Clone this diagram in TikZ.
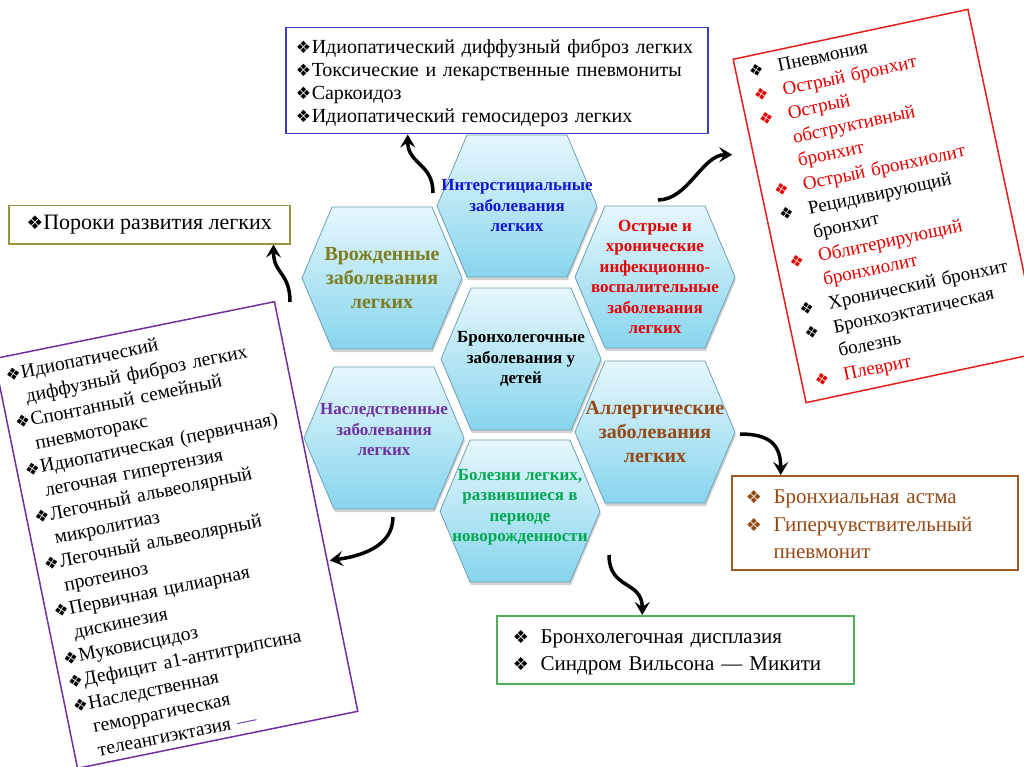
\documentclass[tikz,border=0pt]{standalone}
\usepackage{fontspec}
\setmainfont{Liberation Serif}
\newfontfamily\symf{DejaVu Sans}
\usepackage{graphicx}
\usetikzlibrary{arrows.meta,positioning,shadows}

\definecolor{hexline}{RGB}{110,160,180}
\definecolor{hextop}{RGB}{230,247,252}
\definecolor{hexbot}{RGB}{135,213,238}
\definecolor{interblue}{RGB}{20,20,215}
\definecolor{olivetxt}{RGB}{125,125,30}
\definecolor{redtxt}{RGB}{230,0,0}
\definecolor{purpletxt}{RGB}{112,48,160}
\definecolor{browntxt}{RGB}{150,72,20}
\definecolor{greentxt}{RGB}{0,168,80}
\definecolor{topline}{RGB}{60,60,190}
\definecolor{oliveline}{RGB}{150,150,60}
\definecolor{redline}{RGB}{230,30,30}
\definecolor{brownline}{RGB}{160,90,40}
\definecolor{greenline}{RGB}{80,175,90}

\newlength{\bulw}
\newcommand{\bul}{\scalebox{0.85}{\symf ❖}}
\newcommand{\itm}[2][black]{\hangindent=\bulw\hangafter=1\noindent%
  \makebox[\bulw][l]{\textcolor{#1}{\bul}}\textcolor{#1}{#2}\par}

\begin{document}
\begin{tikzpicture}[x=1pt, y=-1pt,
  hexcell/.style={draw=hexline, line width=0.8pt, top color=hextop, bottom color=hexbot,
    drop shadow={shadow xshift=1pt, shadow yshift=-3pt, opacity=0.35}},
  hextext/.style={align=center, inner sep=0pt, font=\bfseries\fontsize{17}{20.5}\selectfont},
  listbox/.style={rectangle, draw, line width=1.5pt, fill=white, align=left, inner ysep=4pt},
  curvy/.style={line width=3.5pt, -{Stealth[length=13pt, width=15pt, inset=5pt]}}
]
\useasboundingbox (0,0) rectangle (1024,767);
\clip (0,0) rectangle (1024,767);
\fill[white] (0,0) rectangle (1024,767);

% Honeycomb
\foreach \nm/\x/\y in {inter/517/206, vrozh/382/278, ostr/655/277, bronch/521/359,
                       nasl/384/438, allerg/655/432, neonat/520/511} {
  \coordinate (\nm) at (\x,\y);
  \path[hexcell] (\nm) +(-80,0) -- +(-50,-71) -- +(50,-71) -- +(80,0) -- +(50,71) -- +(-50,71) -- cycle;
}

\node[hextext, text=interblue] (interT) at (inter) {Интерстициальные\\заболевания\\легких};
\node[hextext, text=olivetxt, font=\bfseries\fontsize{20}{24}\selectfont] (vrozhT) at (vrozh) {Врожденные\\заболевания\\легких};
\node[hextext, text=redtxt] (ostrT) at (ostr) {Острые и\\хронические\\инфекционно-\\воспалительные\\заболевания\\легких};
\node[hextext] (bronchT) at (bronch) {Бронхолегочные\\заболевания у\\детей};
\node[hextext, text=purpletxt, yshift=8pt] (naslT) at (nasl) {Наследственные\\заболевания\\легких};
\node[hextext, text=browntxt, font=\bfseries\fontsize{20}{24}\selectfont] (allergT) at (allerg) {Аллергические\\заболевания\\легких};
\node[hextext, text=greentxt, yshift=4pt] (neonatT) at (neonat) {Болезни легких,\\развившиеся в\\периоде\\новорожденности};

% Lists
\node[listbox, draw=topline, anchor=north west, text width=402pt, inner xsep=10pt,
  text height=22pt, text depth=76pt,
  font=\fontsize{20}{23}\selectfont\setlength{\bulw}{0.8em}] (interlist) at (285,27)
  {\itm{Идиопатический диффузный фиброз легких}
   \itm{Токсические и лекарственные пневмониты}
   \itm{Саркоидоз}
   \itm{Идиопатический гемосидероз легких}};

\node[listbox, draw=oliveline, anchor=north west, minimum width=281pt, minimum height=38pt,
  align=center, font=\fontsize{22}{26}\selectfont] (poroki) at (8,205) {\bul Пороки развития легких};

\node[listbox, draw=redline, rotate=12, minimum width=240pt, minimum height=351pt,
  text width=214pt, inner xsep=13pt,
  font=\fontsize{19}{24.3}\selectfont\setlength{\bulw}{1.55em}] (infectlist) at (887,206)
  {\itm{Пневмония}
   \itm[redtxt]{Острый бронхит}
   \itm[redtxt]{Острый\newline обструктивный\newline бронхит}
   \itm[redtxt]{Острый бронхиолит}
   \itm{Рецидивирующий\newline бронхит}
   \itm[redtxt]{Облитерирующий\newline бронхиолит}
   \itm{Хронический бронхит}
   \itm{Бронхоэктатическая\newline болезнь}
   \itm[redtxt]{Плеврит}};

\node[listbox, draw=purpletxt, rotate=11.5, minimum width=286pt, minimum height=418pt,
  text width=270pt, inner xsep=8pt, text height=21pt, text depth=389pt,
  font=\fontsize{19.5}{24.1}\selectfont\setlength{\bulw}{0.8em}] (heredlist) at (176,535)
  {\itm{Идиопатический\newline диффузный фиброз легких}
   \itm{Спонтанный семейный\newline пневмоторакс}
   \itm{Идиопатическая (первичная)\newline легочная гипертензия}
   \itm{Легочный альвеолярный\newline микролитиаз}
   \itm{Легочный альвеолярный\newline протеиноз}
   \itm{Первичная цилиарная\newline дискинезия}
   \itm{Муковисцидоз}
   \itm{Дефицит а1-антитрипсина}
   \itm{Наследственная\newline геморрагическая\newline телеангиэктазия \textcolor{purpletxt}{—}}};

\node[listbox, draw=brownline, anchor=north west, text width=258pt, inner xsep=14pt,
  text height=24pt, text depth=62pt,
  font=\fontsize{21}{27.5}\selectfont\setlength{\bulw}{1.33em}] (allergylist) at (731,475)
  {\itm[browntxt]{Бронхиальная астма}
   \itm[browntxt]{Гиперчувствительный\newline пневмонит}};

\node[listbox, draw=greenline, anchor=north west, text width=325pt, inner xsep=16pt,
  text height=24pt, text depth=36pt,
  font=\fontsize{21}{27}\selectfont\setlength{\bulw}{1.33em}] (neonatlist) at (496,615)
  {\itm{Бронхолегочная дисплазия}
   \itm{Синдром Вильсона — Микити}};

% Arrows
\draw[curvy] ([xshift=-92pt,yshift=-24pt]vrozh) .. controls +(0,-30) and +(0,30) .. ([xshift=-17pt]poroki.south east);
\draw[curvy] ([xshift=-84pt,yshift=13pt]inter) .. controls +(0,-30) and +(0,30) .. ([xshift=-89pt]interlist.south);
\draw[curvy] ([xshift=3pt,yshift=77pt]ostr) .. controls +(30,0) and +(-30,0) .. ([yshift=-96pt]infectlist.north west);
\draw[curvy] ([xshift=85pt,yshift=-2pt]allerg) .. controls +(30,0) and +(0,-30) .. ([xshift=-94pt]allergylist.north);
\draw[curvy] ([xshift=89pt,yshift=-44pt]neonat) .. controls +(0,35) and +(0,-35) .. ([xshift=-33pt]neonatlist.north);
\draw[curvy] ([xshift=9pt,yshift=-79pt]nasl) .. controls +(0,30) and +(30,-4) .. ([xshift=13pt,yshift=-54pt]heredlist.east);

\end{tikzpicture}
\end{document}
